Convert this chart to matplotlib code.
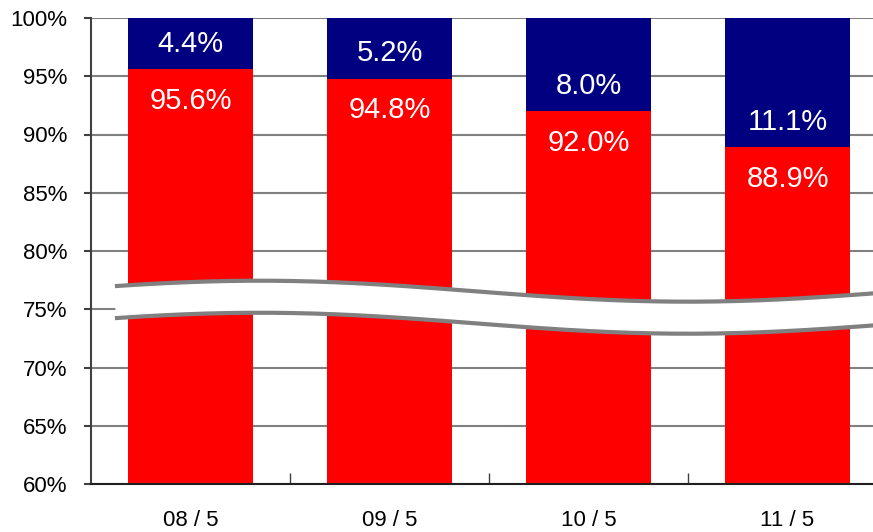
import numpy as np
import matplotlib
matplotlib.use("Agg")
import matplotlib.pyplot as plt

plt.rcParams['font.family'] = ['Liberation Sans', 'DejaVu Sans']

months = ['08/5', '09/5', '10/5', '11/5']
red_share = [95.6, 94.8, 92.0, 88.9]
navy_share = [4.4, 5.2, 8.0, 11.1]
y_ticks = [60, 65, 70, 75, 80, 85, 90, 95, 100]

fig = plt.figure(figsize=(8.73, 5.32), dpi=100)
# axes runs past the right edge of the figure, as in the reference
ax = fig.add_axes([91 / 873, (532 - 484) / 532, 796 / 873, 466 / 532])

x = np.arange(len(months))
w = 0.625
ax.bar(x, red_share, width=w, color='#ff0000', zorder=2)
ax.bar(x, navy_share, width=w, bottom=red_share, color='#000080', zorder=2)

for i in range(len(months)):
    ax.text(x[i], red_share[i] + 2.2, f'{navy_share[i]:.1f}%', color='white',
            ha='center', va='center', fontsize=21, zorder=4)
    ax.text(x[i], red_share[i] - 2.7, f'{red_share[i]:.1f}%', color='white',
            ha='center', va='center', fontsize=21, zorder=4)

# wavy axis break
xs = np.linspace(-0.38, 3.6, 300)
wave = 0.9 * np.cos(np.pi * (xs - 0.35) / 2.15)
upper = 76.55 + wave
lower = 73.8 + wave
ax.fill_between(xs, lower, upper, color='white', zorder=5, lw=0)
ax.plot(xs, upper, color='#808080', lw=3, zorder=6, solid_capstyle='butt')
ax.plot(xs, lower, color='#808080', lw=3, zorder=6, solid_capstyle='butt')

ax.set_xlim(-0.5, 3.5)
ax.set_ylim(60, 100)
ax.set_yticks(y_ticks)
ax.set_yticklabels([f'{t}%' for t in y_ticks], fontsize=16)
ax.yaxis.grid(True, color='#808080', lw=1.5, zorder=0)
ax.set_axisbelow(True)
ax.tick_params(axis='y', length=5, width=1.5, color='#404040', pad=12)

ax.set_xticks(x)
ax.set_xticklabels([m.replace('/', ' / ') for m in months], fontsize=16)
ax.set_xticks([0.5, 1.5, 2.5], minor=True)
ax.tick_params(axis='x', which='major', length=0, pad=19)
ax.tick_params(axis='x', which='minor', direction='in', length=8, width=1, color='#404040')

for s in ['top', 'right']:
    ax.spines[s].set_visible(False)
ax.spines['left'].set_color('#404040')
ax.spines['left'].set_linewidth(1.5)
ax.spines['bottom'].set_color('#202020')
ax.spines['bottom'].set_linewidth(1.5)

fig.savefig('out.png', dpi=100)
